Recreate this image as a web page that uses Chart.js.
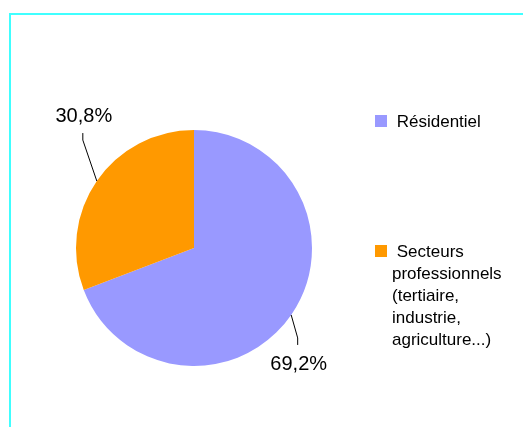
<!DOCTYPE html>
<html>
<head>
<meta charset="utf-8">
<script src="https://cdn.jsdelivr.net/npm/chart.js@4"></script>
<style>
  html, body { margin: 0; padding: 0; background: #fff; }
  #wrap { position: relative; width: 523px; height: 427px; overflow: hidden; }
  #cadre { position: absolute; left: 9px; top: 13px; width: 600px; height: 500px;
           border-left: 2px solid #40FFFF; border-top: 2px solid #40FFFF; }
  #c { position: absolute; left: 0; top: 0; }
</style>
</head>
<body>
<div id="wrap">
  <div id="cadre"></div>
  <canvas id="c" width="523" height="427"></canvas>
</div>
<script>
const categories = ['Résidentiel', ['Secteurs', 'professionnels', '(tertiaire,', 'industrie,', 'agriculture...)']];
const valeurs = [69.2, 30.8];
const couleurs = ['#9999FF', '#FF9900'];

const FONT = '"Liberation Sans", Arial, sans-serif';

// petites lignes de rappel : [coude, bout] relatifs au bord de la part
const rappels = [
  { coude: [6.5, 23], bout: [6.5, 30], texteDy: 25 },
  { coude: [-14, -41], bout: [-14, -48], texteDy: -11 }
];

const etiquettes = {
  id: 'etiquettes',
  afterDatasetsDraw(chart) {
    const ctx = chart.ctx;
    const meta = chart.getDatasetMeta(0);
    ctx.save();
    meta.data.forEach((arc, i) => {
      const p = arc.getProps(['x', 'y', 'startAngle', 'endAngle', 'outerRadius'], true);
      const mid = (p.startAngle + p.endAngle) / 2;
      const ex = p.x + Math.cos(mid) * p.outerRadius;
      const ey = p.y + Math.sin(mid) * p.outerRadius;
      const r = rappels[i];
      const bx = ex + r.bout[0], by = ey + r.bout[1];
      ctx.strokeStyle = '#000';
      ctx.lineWidth = 1;
      ctx.beginPath();
      ctx.moveTo(ex, ey);
      ctx.lineTo(ex + r.coude[0], ey + r.coude[1]);
      ctx.lineTo(bx, by);
      ctx.stroke();
      ctx.fillStyle = '#000';
      ctx.font = '20px ' + FONT;
      ctx.textAlign = 'center';
      ctx.textBaseline = 'alphabetic';
      const txt = valeurs[i].toFixed(1).replace('.', ',') + '%';
      ctx.fillText(txt, bx + 1, by + r.texteDy);
    });
    ctx.restore();
  }
};

const legende = {
  id: 'legende',
  afterDraw(chart) {
    const ctx = chart.ctx;
    const pos = [{ y: 115 }, { y: 245 }];
    ctx.save();
    ctx.font = '17px ' + FONT;
    ctx.textAlign = 'left';
    ctx.textBaseline = 'alphabetic';
    chart.data.labels.forEach((lab, i) => {
      const y0 = pos[i].y;
      ctx.fillStyle = couleurs[i];
      ctx.fillRect(375, y0, 12, 12);
      ctx.fillStyle = '#000';
      const lignes = Array.isArray(lab) ? lab : [lab];
      lignes.forEach((l, k) => {
        ctx.fillText(k === 0 ? ' ' + l : l, 392, y0 + 12 + k * 22);
      });
    });
    ctx.restore();
  }
};

new Chart(document.getElementById('c'), {
  type: 'pie',
  data: {
    labels: categories,
    datasets: [{ data: valeurs, backgroundColor: couleurs, borderWidth: 0 }]
  },
  options: {
    responsive: false,
    animation: false,
    devicePixelRatio: 1,
    layout: { padding: { left: 76, top: 130, right: 211, bottom: 61 } },
    plugins: { legend: { display: false }, tooltip: { enabled: false } }
  },
  plugins: [etiquettes, legende]
});
</script>
</body>
</html>
